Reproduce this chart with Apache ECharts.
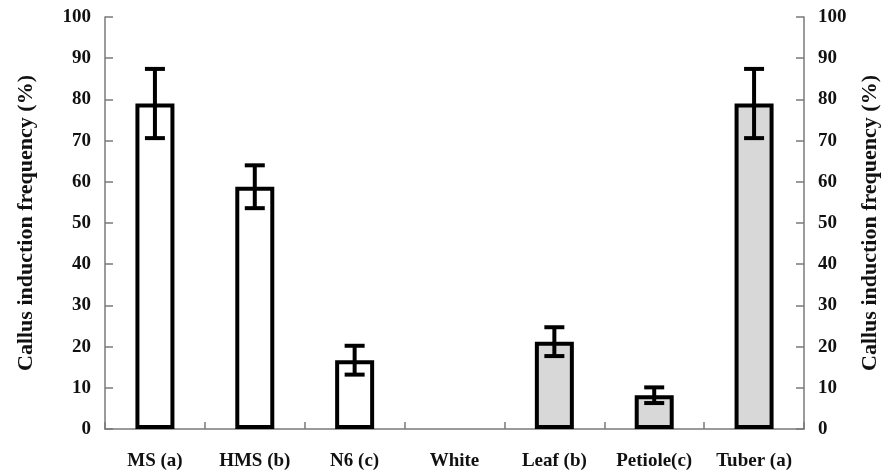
<!DOCTYPE html>
<html>
<head>
<meta charset="utf-8">
<script src="https://cdn.jsdelivr.net/npm/echarts@6/dist/echarts.min.js"></script>
<style>html,body{margin:0;padding:0;background:#fff;}#c{width:889px;height:473px;}</style>
</head>
<body>
<div id="c"></div>
<script>
var categories = ['MS (a)', 'HMS (b)', 'N6 (c)', 'White', 'Leaf (b)', 'Petiole(c)', 'Tuber (a)'];
var values = [79, 58.8, 16.7, 0, 21.2, 8.2, 79];
var errors = [8.4, 5.2, 3.5, 0, 3.5, 1.9, 8.4];
var grayBars = [false, false, false, false, true, true, true];
var yTicks = [0, 10, 20, 30, 40, 50, 60, 70, 80, 90, 100];
var axisName = 'Callus induction frequency (%)';

var FONT = '"Liberation Serif", "Times New Roman", serif';
var axisGray = '#7a7a7a';

var barData = values.map(function (v, i) {
  return {
    value: v,
    itemStyle: {
      color: grayBars[i] ? '#d8d8d8' : '#ffffff',
      borderColor: '#000',
      borderWidth: v > 0 ? 4 : 0
    }
  };
});
var errData = values.map(function (v, i) { return [i, v + errors[i], v - errors[i], errors[i]]; });

function yAxisCfg(pos, gap) {
  return {
    type: 'value', position: pos, min: yTicks[0], max: yTicks[yTicks.length - 1], interval: 10,
    name: axisName, nameLocation: 'middle', nameGap: gap, nameRotate: 90,
    nameTextStyle: { fontFamily: FONT, fontWeight: 'bold', fontSize: 22, color: '#111' },
    axisLine: { show: true, lineStyle: { color: axisGray, width: 1.5 } },
    axisTick: { show: true, inside: true, length: 8, lineStyle: { color: axisGray, width: 1.5 } },
    axisLabel: { fontFamily: FONT, fontWeight: 'bold', fontSize: 19, color: '#111', margin: 14 },
    splitLine: { show: false }
  };
}

var chart = echarts.init(document.getElementById('c'), null, { renderer: 'canvas' });
chart.setOption({
  animation: false,
  backgroundColor: '#fff',
  grid: { left: 105, right: 72, top: 17, bottom: 44, containLabel: false },
  xAxis: {
    type: 'category', data: categories,
    axisLine: { lineStyle: { color: axisGray, width: 1.5 } },
    axisTick: { show: true, inside: true, length: 7, alignWithLabel: false, lineStyle: { color: axisGray, width: 1.5 } },
    axisLabel: { fontFamily: FONT, fontWeight: 'bold', fontSize: 19, color: '#111', margin: 23, interval: 0 }
  },
  yAxis: [yAxisCfg('left', 68), yAxisCfg('right', 55)],
  series: [
    { type: 'bar', data: barData, barWidth: 39, yAxisIndex: 0, z: 2 },
    {
      type: 'custom', yAxisIndex: 0, z: 5, data: errData,
      renderItem: function (params, api) {
        if (api.value(3) <= 0) return null;
        var hi = api.coord([api.value(0), api.value(1)]);
        var lo = api.coord([api.value(0), api.value(2)]);
        var hw = 10;
        var st = { stroke: '#000', lineWidth: 4 };
        return {
          type: 'group',
          children: [
            { type: 'line', shape: { x1: hi[0], y1: hi[1], x2: lo[0], y2: lo[1] }, style: st },
            { type: 'line', shape: { x1: hi[0] - hw, y1: hi[1], x2: hi[0] + hw, y2: hi[1] }, style: st },
            { type: 'line', shape: { x1: lo[0] - hw, y1: lo[1], x2: lo[0] + hw, y2: lo[1] }, style: st }
          ]
        };
      }
    }
  ]
});
</script>
</body>
</html>
